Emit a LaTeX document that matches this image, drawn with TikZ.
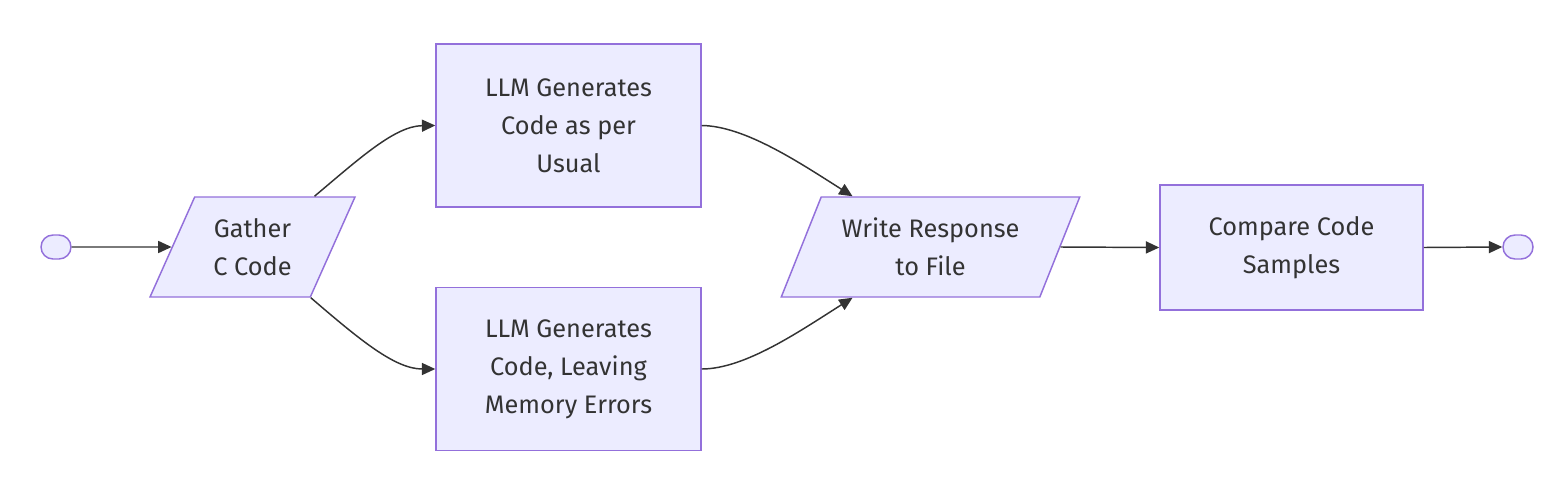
\documentclass[tikz,border=0pt]{standalone}
\usepackage{fontspec}
\setmainfont{Fira Sans}
\usepackage{xcolor}
\usepackage{tikz}
\usetikzlibrary{shapes.geometric,arrows.meta,calc}

\definecolor{boxfill}{HTML}{ECECFF}
\definecolor{boxline}{HTML}{9370DB}
\definecolor{ink}{HTML}{333333}

\tikzset{
    box/.style={draw=boxline, fill=boxfill, line width=1.1pt, text=ink,
        align=center, font=\fontsize{19}{28.5}\selectfont},
    process/.style={box, rectangle, minimum width=198.75pt, minimum height=122.25pt},
    inout/.style={box, trapezium, trapezium left angle=63, trapezium right angle=117,
        trapezium stretches=true, minimum height=75pt},
    terminal/.style={box, rectangle, rounded corners=9pt, minimum width=22.5pt,
        minimum height=18pt, inner sep=0pt},
    flow/.style={draw=ink, line width=1.1pt, -{Triangle[length=10pt,width=9pt]}}
}

\begin{document}
\begin{tikzpicture}[x=0.75pt, y=-0.75pt]
    \useasboundingbox (0,0) rectangle (1566,496);
    % start and end points
    \node[terminal] (start) at (56,247) {};
    \node[terminal] (stop) at (1518,247) {};
    % input side
    \node[inout, minimum width=153.75pt] (gather) at (252.5,247) {Gather\\C Code};
    % the two generation branches
    \node[process] (usual) at (568.5,125.5) {LLM Generates\\Code as per\\Usual};
    \node[process] (errors) at (568.5,369) {LLM Generates\\Code, Leaving\\Memory Errors};
    % output side
    \node[inout, minimum width=224.25pt] (write) at (930.5,247) {Write Response\\to File};
    \node[process, minimum width=197.25pt, minimum height=93.75pt] (compare) at (1291.5,247.5) {Compare Code\\Samples};

    \draw[flow] (start.east) -- (gather.west);
    \draw[flow] ($(gather.north)+(62,0)$) .. controls (360,158) and (395,126) .. (usual.west);
    \draw[flow] (gather.bottom right corner) .. controls (360,340) and (395,369) .. (errors.west);
    \draw[flow] (usual.east) .. controls (745,126) and (800,163) .. ($(write.north)+(-78,0)$);
    \draw[flow] (errors.east) .. controls (745,369) and (800,331) .. ($(write.south)+(-78,0)$);
    \draw[flow] (write.east) -- (compare.west);
    \draw[flow] (compare.east) -- (stop.west);
\end{tikzpicture}
\end{document}
